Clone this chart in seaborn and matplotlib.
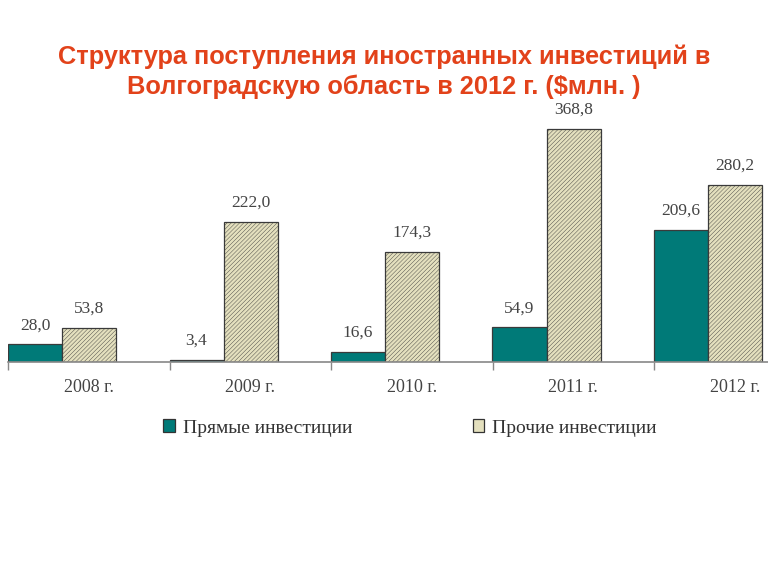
import matplotlib
matplotlib.use("Agg")
import matplotlib.pyplot as plt
import seaborn as sns
import pandas as pd
import numpy as np

years = ["2008 г.", "2009 г.", "2010 г.", "2011 г.", "2012 г."]
direct = [28.0, 3.4, 16.6, 54.9, 209.6]
other = [53.8, 222.0, 174.3, 368.8, 280.2]
series_names = ["Прямые инвестиции", "Прочие инвестиции"]
title = "Структура поступления иностранных инвестиций в\nВолгоградскую область в 2012 г. ($млн. )"

df = pd.DataFrame({
    "year": years * 2,
    "value": direct + other,
    "series": [series_names[0]] * len(years) + [series_names[1]] * len(years),
})

sns.set_theme(style="white")
plt.rcParams["font.family"] = ["Liberation Serif", "DejaVu Serif"]
plt.rcParams["hatch.linewidth"] = 0.3
plt.rcParams["hatch.color"] = "#D0CCA8"

W, H = 768, 576
fig = plt.figure(figsize=(7.68, 5.76), dpi=100)
ax = fig.add_axes([8 / W, 1 - 362 / H, (768 - 8) / W, (362 - 100) / H])

colors = ["#007A78", "#E4E0BE"]
bw = 54 / 161.5
sns.barplot(data=df, x="year", y="value", hue="series", order=years,
            hue_order=series_names, palette=colors, width=2 * bw,
            edgecolor="#3a3a3a", linewidth=0.9, saturation=1, ax=ax,
            legend=True)

for i, p in enumerate(ax.patches[:2 * len(years)]):
    if i >= len(years):
        p.set_hatch("////////")

for cont in ax.containers:
    ax.bar_label(cont, labels=[f"{v:.1f}".replace(".", ",") for v in cont.datavalues],
                 padding=8, fontsize=12.5, color="#444444")

top_val = (362 - 100) / ((362 - 129) / 368.8)
ax.set_ylim(0, top_val)
x0 = -bw
ax.set_xlim(x0, x0 + (768 - 8) / 161.5)

n = len(years)
bounds = [x0 + i for i in range(n)]
ax.set_xticks(bounds)
ax.set_xticklabels([""] * n)
ax.set_xticks([x0 + i + 0.5 for i in range(n)], minor=True)
ax.set_xticklabels(years, minor=True)
ax.tick_params(axis="x", which="major", length=6, width=1, color="#888888",
               direction="out", bottom=True)
ax.tick_params(axis="x", which="minor", length=0, labelsize=13,
               labelcolor="#444444", pad=12)
ax.set_yticks([])
ax.set_xlabel("")
ax.set_ylabel("")
for s in ["top", "right", "left"]:
    ax.spines[s].set_visible(False)
ax.spines["bottom"].set_color("#888888")
ax.spines["bottom"].set_linewidth(1.2)

leg = ax.legend(loc="center", bbox_to_anchor=(410 / W, 1 - 428 / H),
                bbox_transform=fig.transFigure, ncol=2, frameon=False,
                fontsize=14, handlelength=0.6, handleheight=0.6,
                columnspacing=6.2, handletextpad=0.4, labelcolor="#333333")
for h in leg.legend_handles:
    h.set_hatch(None)
    h.set_edgecolor("#333333")

fig.text(0.5, 1 - 72 / H, title, ha="center", va="center",
         fontsize=18.3, fontweight="bold", color="#E2421A",
         family=["Liberation Sans", "DejaVu Sans"], linespacing=1.3)

fig.savefig("out.png", dpi=100)
